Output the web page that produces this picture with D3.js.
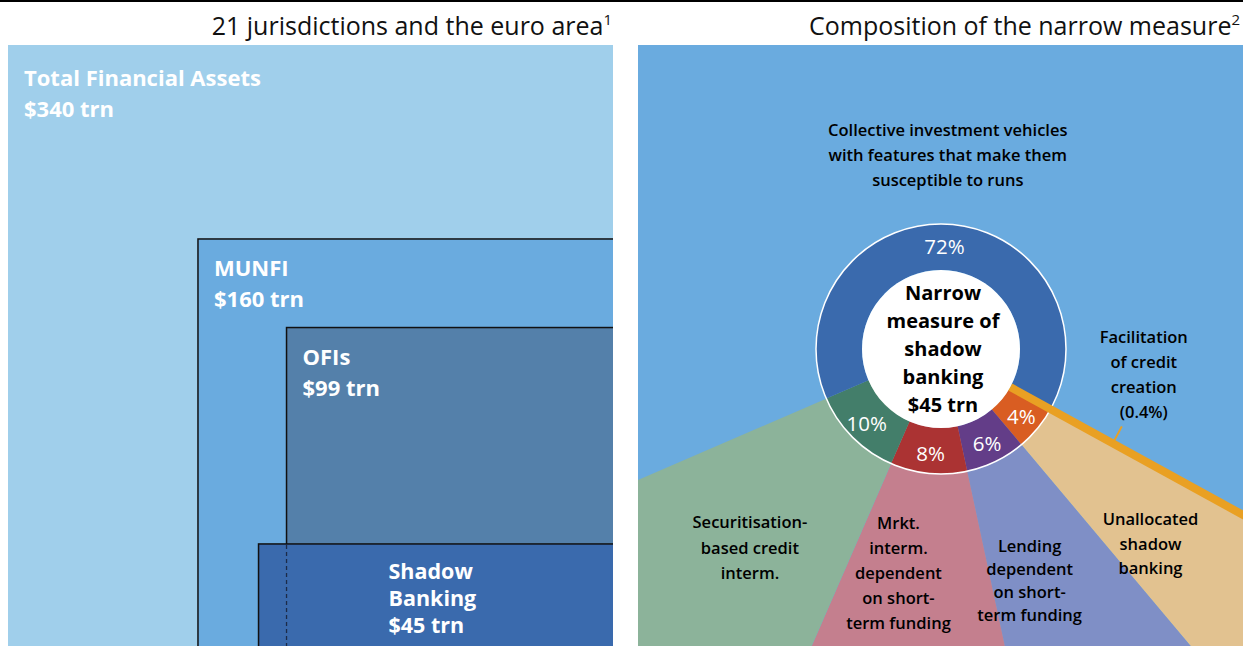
<!DOCTYPE html>
<html lang="en">

<head>
    <meta charset="UTF-8">
    <title>Shadow banking</title>
    <style>
        body { margin: 0; background: #fff; }
        text { font-family: "Open Sans", "Noto Sans", sans-serif; }
    </style>
</head>

<body>
    <svg id="chart"></svg>

    <script src="https://d3js.org/d3.v7.min.js"></script>

    <script>
        // Left panel: nested aggregates, $ trn
        var boxNames = [["Total Financial Assets"], ["MUNFI"], ["OFIs"], ["Shadow", "Banking"]];
        var boxValues = [340, 160, 99, 45];

        // Right panel: composition of the narrow measure, % (clockwise from the gold line)
        var sliceNames = [
            ["Facilitation", "of credit", "creation", "(0.4%)"],
            ["Unallocated", "shadow", "banking"],
            ["Lending", "dependent", "on short-", "term funding"],
            ["Mrkt.", "interm.", "dependent", "on short-", "term funding"],
            ["Securitisation-", "based credit", "interm."],
            ["Collective investment vehicles", "with features that make them", "susceptible to runs"]
        ];
        var sliceValues = [0.4, 4, 6, 8, 10, 72];
        var sliceLabels = ["", "4%", "6%", "8%", "10%", "72%"];
        var centreLines = ["Narrow", "measure of", "shadow", "banking", "$45 trn"];

        var titles = [["21 jurisdictions and the euro area", "1"], ["Composition of the narrow measure", "2"]];

        // Constants
        var width = 1243,
            height = 646;

        var svg = d3.select("#chart")
            .attr("width", width)
            .attr("height", height);

        // top rule
        svg.append("rect")
            .attr("x", 0).attr("y", 0)
            .attr("width", width).attr("height", 2)
            .attr("fill", "#000");

        // panel titles
        var titleEnds = [612, 1240];
        titles.forEach(function (t, i) {
            var tx = svg.append("text")
                .attr("x", titleEnds[i])
                .attr("y", 35)
                .attr("text-anchor", "end")
                .attr("font-size", 25)
                .attr("fill", "#111");
            tx.append("tspan").text(t[0]);
            tx.append("tspan").attr("dy", -10).attr("font-size", 15).text(t[1]);
        });

        // ---------- left panel ----------
        var panelX = 8, panelTop = 45, panelRight = 613, panelBottom = 654;

        // squares anchored bottom-right, area proportional to value
        var side = d3.scaleSqrt()
            .domain([0, boxValues[0]])
            .range([0, panelRight - panelX]);

        var boxColors = ["#a0cfeb", "#6aabdf", "#5480aa", "#3a6aad"];

        var left = svg.append("g");

        var boxes = boxValues.map(function (v, i) {
            var s = side(v);
            return { x: panelRight - s, y: panelBottom - s, w: s, h: s };
        });
        // shadow banking box: a flat band overlapping the OFIs box
        var sb = boxes[3];
        sb.h = side(boxValues[3]) / 2;
        sb.y = panelBottom - sb.h;
        sb.x = boxes[2].x - 28;
        sb.w = panelRight - sb.x;

        boxes.forEach(function (b, i) {
            left.append("rect")
                .attr("x", i == 0 ? panelX : b.x)
                .attr("y", i == 0 ? panelTop : b.y)
                .attr("width", i == 0 ? panelRight - panelX : b.w + 4)
                .attr("height", b.h + 10)
                .attr("fill", boxColors[i])
                .attr("stroke", i == 0 ? "none" : "#111")
                .attr("stroke-width", 1.5);
        });

        // clip away the right-hand edge strokes
        svg.append("rect")
            .attr("x", panelRight).attr("y", 2)
            .attr("width", 638 - panelRight).attr("height", height)
            .attr("fill", "#fff");

        // dashed continuation of the OFIs edge
        left.append("line")
            .attr("x1", boxes[2].x).attr("x2", boxes[2].x)
            .attr("y1", sb.y + 1).attr("y2", height)
            .attr("stroke", "#1c2b48")
            .attr("stroke-width", 1.3)
            .attr("stroke-dasharray", "4,3");

        boxes.forEach(function (b, i) {
            var lines = boxNames[i].concat(["$" + boxValues[i] + " trn"]);
            var x0 = i == 0 ? panelX + 16 : b.x + 16,
                y0 = i == 0 ? panelTop + 41 : b.y + 37,
                lh = 31, fs = 22;
            if (i == 3) { x0 = b.x + 130; y0 = b.y + 35; lh = 27; fs = 21.5; }
            var t = left.append("text")
                .attr("font-size", fs)
                .attr("font-weight", 700)
                .attr("fill", "#fff");
            lines.forEach(function (l, j) {
                t.append("tspan").attr("x", x0).attr("y", y0 + j * lh).text(l);
            });
        });

        // ---------- right panel ----------
        var rpX = 638, rpW = 605;
        var cx = 941, cy = 349, rIn = 79, rOut = 125;

        svg.append("clipPath").attr("id", "rclip")
            .append("rect")
            .attr("x", rpX).attr("y", panelTop)
            .attr("width", rpW).attr("height", height - panelTop);

        var right = svg.append("g").attr("clip-path", "url(#rclip)");

        right.append("rect")
            .attr("x", rpX).attr("y", panelTop)
            .attr("width", rpW).attr("height", height - panelTop)
            .attr("fill", "#6aabdf");

        // schematic: soften the angular spread so the small slices stay legible
        var weight = d3.scalePow().exponent(0.85).domain([0, 100]).range([0, 100]);
        var total = d3.sum(sliceValues, d => weight(d));
        var small = d3.sum(sliceValues.slice(0, 5), d => weight(d));
        var tilt = 2 * Math.PI / 180;
        var start = Math.PI - Math.PI * small / total + tilt;

        var pie = d3.pie()
            .sort(null)
            .value(d => weight(d))
            .startAngle(start)
            .endAngle(start + 2 * Math.PI);
        var arcs = pie(sliceValues);

        var ringColors = ["#e9a023", "#d95d22", "#633d88", "#ab3333", "#437e6a", "#3a6aad"];
        var outerColors = [null, "#e2c290", "#7f8fc6", "#c47f8e", "#8cb39a", null];

        var g = right.append("g").attr("transform", "translate(" + cx + "," + cy + ")");

        var mid = a => (a.startAngle + a.endAngle) / 2;
        var polar = (ang, r) => [r * Math.sin(ang), -r * Math.cos(ang)];

        // outer wedges
        var bigArc = d3.arc().innerRadius(0).outerRadius(900);
        g.selectAll(".wedge")
            .data(arcs.filter((a, i) => outerColors[i]))
            .enter()
            .append("path")
            .attr("class", "wedge")
            .attr("d", function (a) {
                var s = a.index == 1 ? mid(arcs[0]) : a.startAngle;
                return bigArc({ startAngle: s, endAngle: a.endAngle });
            })
            .attr("fill", a => outerColors[a.index]);

        // ring
        var ring = d3.arc().innerRadius(rIn).outerRadius(rOut);
        g.selectAll(".slice")
            .data(arcs)
            .enter()
            .append("path")
            .attr("class", "slice")
            .attr("d", ring)
            .attr("fill", (a, i) => ringColors[i]);

        g.append("circle")
            .attr("r", rOut)
            .attr("fill", "none")
            .attr("stroke", "#fff")
            .attr("stroke-width", 1.5);

        // facilitation of credit creation: drawn as a thick line
        var fa = mid(arcs[0]);
        var p0 = polar(fa, rIn), p1 = polar(fa, 900);
        g.append("line")
            .attr("x1", p0[0]).attr("y1", p0[1])
            .attr("x2", p1[0]).attr("y2", p1[1])
            .attr("stroke", ringColors[0])
            .attr("stroke-width", 8);

        g.append("circle")
            .attr("r", rIn)
            .attr("fill", "#fff");

        // percentage labels in the ring
        var pctArc = d3.arc().innerRadius(rIn + 3).outerRadius(rOut + 3);
        g.selectAll(".pct")
            .data(arcs)
            .enter()
            .append("text")
            .attr("class", "pct")
            .attr("transform", a => "translate(" + (a.index == 5 ? ring : pctArc).centroid(a) + ")")
            .attr("text-anchor", "middle")
            .attr("dy", "0.36em")
            .attr("font-size", 20.5)
            .attr("fill", "#fff")
            .text((a, i) => sliceLabels[i]);

        // centre text
        var ct = g.append("text")
            .attr("text-anchor", "middle")
            .attr("font-size", 20)
            .attr("font-weight", 700)
            .attr("fill", "#000");
        centreLines.forEach(function (l, j) {
            ct.append("tspan").attr("x", 2).attr("y", -49 + j * 28).text(l);
        });

        // wedge labels
        var labelRadius = [null, 279, 247, 227, 277, 194];
        var labelShift = [null, [-4, 15], [-20, 10], [-20, -2], [5, 3], [0, 0]];
        var lineH = [25, 24.5, 23, 25, 25.5, 25];

        function block(x, y, lines, lh) {
            var t = g.append("text")
                .attr("text-anchor", "middle")
                .attr("font-size", 16.5)
                .attr("font-weight", 600)
                .attr("fill", "#000");
            lines.forEach(function (l, j) {
                t.append("tspan")
                    .attr("x", x)
                    .attr("y", y - (lines.length - 1) / 2 * lh + 6 + j * lh)
                    .text(l);
            });
        }

        arcs.forEach(function (a, i) {
            if (!labelRadius[i]) return;
            var p = polar(mid(a), labelRadius[i]);
            block(p[0] + labelShift[i][0], p[1] + labelShift[i][1], sliceNames[i], lineH[i]);
        });

        // facilitation label with leader to the gold line
        var lp = polar(fa, 196);
        g.append("line")
            .attr("x1", lp[0]).attr("y1", lp[1])
            .attr("x2", lp[0] + 9).attr("y2", lp[1] - 17)
            .attr("stroke", ringColors[0])
            .attr("stroke-width", 2);
        block(lp[0] + 31, lp[1] - 69, sliceNames[0], 25);
    </script>
</body>

</html>
